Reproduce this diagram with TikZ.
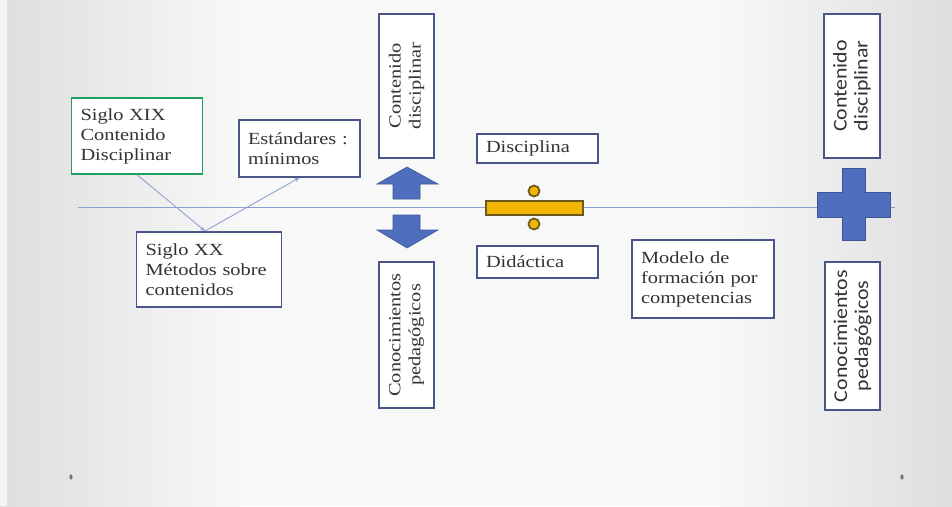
\documentclass[tikz,border=0pt]{standalone}
\usepackage{fontspec}
\usetikzlibrary{arrows.meta}
\setmainfont{Liberation Serif}
\newfontfamily\slidefont[FakeStretch=1.2]{Liberation Serif}
\newfontfamily\slidesans[FakeStretch=1.12]{Carlito}
\definecolor{boxline}{HTML}{4A5689}
\definecolor{greenline}{HTML}{20A060}
\definecolor{linkline}{HTML}{8FA2D0}
\definecolor{axisline}{HTML}{8C9DD0}
\definecolor{arrowfill}{HTML}{4F6FBE}
\definecolor{arrowedge}{HTML}{3B5597}
\definecolor{goldfill}{HTML}{F2B705}
\definecolor{goldedge}{HTML}{6E5A1E}
\definecolor{txt}{HTML}{333333}
\definecolor{bgmid}{HTML}{F8F8F8}
\definecolor{bgedge}{HTML}{DEDEDE}
\tikzset{
  box/.style={draw=boxline, line width=1.4pt, fill=white, inner xsep=9pt, inner ysep=3pt, align=left,
    text=txt, font=\slidefont\fontsize{17}{20}\selectfont},
  vbox/.style={box, rotate=90, align=center, inner xsep=4pt},
  vsbox/.style={vbox, font=\slidesans\fontsize{19.5}{21}\selectfont},
  link/.style={draw=linkline, line width=0.9pt, -{Stealth[length=5pt,width=4pt]}},
  blockarrow/.style={fill=arrowfill, draw=arrowedge, line width=0.6pt},
  gold/.style={fill=goldfill, draw=goldedge, line width=1.8pt},
}
\begin{document}
\begin{tikzpicture}[x=1pt,y=-1pt]
\useasboundingbox (0,0) rectangle (952,506);
\fill[bgmid] (0,0) rectangle (952,506);
\shade[left color=bgedge, right color=bgmid] (0,0) rectangle (240,506);
\shade[left color=bgmid, right color=bgedge] (720,0) rectangle (952,506);
\fill[white, opacity=0.7] (0,0) rectangle (7,506);
% axis
\coordinate (axl) at (78,207);
\coordinate (axr) at (895,207);
\draw[axisline, line width=1pt] (axl) -- (axr);
% left boxes
\node[box, draw=greenline, text width=113pt, minimum width=131pt, minimum height=76pt] (xix) at (137,136) {Siglo XIX\\Contenido\\Disciplinar};
\node[box, text width=103pt, minimum width=121pt, minimum height=57pt] (est) at (299.5,148.5) {Estándares :\\mínimos};
\node[box, text width=127pt, minimum width=145pt, minimum height=75pt] (xx) at (209,269.5) {Siglo XX\\Métodos sobre\\contenidos};
\coordinate (meet) at (205,231);
\draw[link] (xix.south) -- (meet);
\draw[link] (meet) -- (est.south);
% vertical boxes (left)
\node[vbox, minimum width=144pt, minimum height=55pt] (cd1) at (406.5,86) {Contenido\\disciplinar};
\node[vbox, minimum width=146pt, minimum height=55pt] (cp1) at (406.5,335) {Conocimientos\\pedagógicos};
% block arrows
\draw[blockarrow] (407,167) -- (438,184) -- (420,184) -- (420,199) -- (393,199) -- (393,184) -- (377,184) -- cycle;
\draw[blockarrow] (407,248) -- (438,230) -- (420,230) -- (420,215) -- (393,215) -- (393,230) -- (377,230) -- cycle;
% middle boxes
\node[box, text width=103pt, minimum width=121pt, minimum height=29pt] (disc) at (537.5,148.5) {Disciplina};
\node[box, text width=103pt, minimum width=121pt, minimum height=32pt] (did) at (537.5,262) {Didáctica};
\node[box, text width=124pt, minimum width=142pt, minimum height=78pt] (mod) at (703,279) {Modelo de\\formación por\\competencias};
% divide sign
\draw[gold] (486,201) rectangle (583,215);
\draw[gold] (534,191) circle (5.5pt);
\draw[gold] (534,224) circle (5.5pt);
% right boxes
\node[vsbox, minimum width=144pt, minimum height=56pt] (cd2) at (852,86) {Contenido\\disciplinar};
\node[vsbox, minimum width=148pt, minimum height=55pt] (cp2) at (852.5,336) {Conocimientos\\pedagógicos};
% plus sign
\draw[blockarrow] (842,168) -- (865,168) -- (865,192) -- (890,192) -- (890,217) -- (865,217) -- (865,240) -- (842,240) -- (842,217) -- (817,217) -- (817,192) -- (842,192) -- cycle;
% slide dots
\fill[black!55] (71,477) ellipse (1.6pt and 2.6pt);
\fill[black!55] (902,477) ellipse (1.6pt and 2.6pt);
\end{tikzpicture}
\end{document}
